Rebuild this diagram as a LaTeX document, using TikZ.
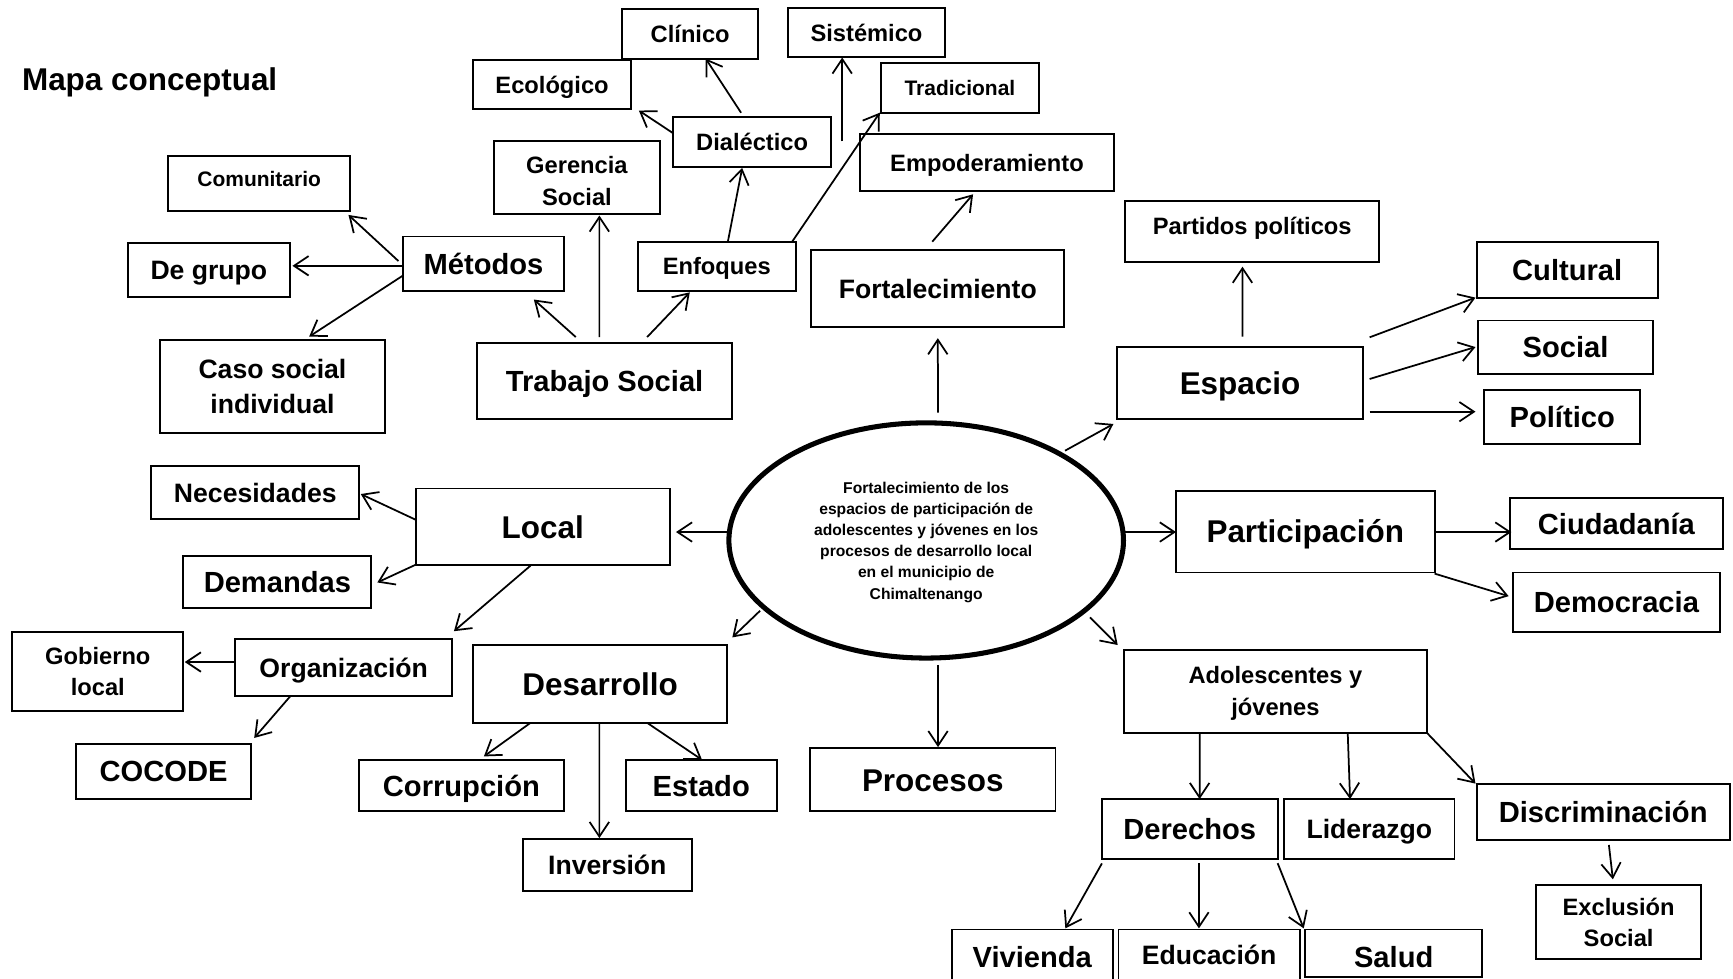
\documentclass[tikz,border=0pt]{standalone}
\usepackage{fontspec}
\setmainfont{Liberation Sans}
\usetikzlibrary{arrows.meta,shapes.geometric}
\newcommand\szL{\fontsize{16.2pt}{19pt}\selectfont}
\newcommand\szT{\fontsize{15pt}{18pt}\selectfont}
\newcommand\szM{\fontsize{13.7pt}{18pt}\selectfont}
\newcommand\szS{\fontsize{12.2pt}{16.2pt}\selectfont}
\newcommand\szX{\fontsize{10.8pt}{13pt}\selectfont}
\newcommand\szE{\fontsize{8.05pt}{10.9pt}\selectfont}
\newcommand\mybox[7][]{\node[box,minimum width={(#4-#2)*0.02cm},minimum height={(#5-#3)*0.02cm},#1] (#6) at ({(#2+#4)/2},{(#3+#5)/2}) {#7};}
\tikzset{
  box/.style={draw, line width=1pt, inner sep=0pt, outer sep=0pt, align=center, text depth=0pt},
  fontL/.style={font=\bfseries\szL, text height=11.7pt},
  fontT/.style={font=\bfseries\szT, text height=10.8pt},
  fontM/.style={font=\bfseries\szM, text height=9.9pt},
  fontS/.style={font=\bfseries\szS, text height=8.8pt},
  fontX/.style={font=\bfseries\szX, text height=7.8pt},
  arr/.style={line width=0.9pt, -{Straight Barb[length=7.5pt,width=10pt]}}
}
\begin{document}
\begin{tikzpicture}[x=0.02cm,y=-0.02cm]
\useasboundingbox (0,0) rectangle (1568,885);
\fill[white] (0,0) rectangle (1568,885);
\clip (0,0) rectangle (1568,885);

\node[anchor=base west, inner sep=0pt, font=\bfseries\fontsize{16.2pt}{19pt}\selectfont] (titulo) at (19.6,82) {Mapa conceptual};

\mybox[fontS]{563}{8}{686}{53}{clinico}{Clínico}
\mybox[fontS]{713}{7}{855}{52}{sistemico}{Sistémico}
\mybox[fontS]{428}{54}{571}{99}{ecologico}{Ecológico}
\mybox[fontX]{797}{57}{940}{102}{tradicional}{Tradicional}
\mybox[fontS]{609}{106}{752}{151}{dialectico}{Dialéctico}
\mybox[fontS]{778}{121}{1008}{173}{empoder}{Empoderamiento}
\mybox[fontX,text depth=5.1pt]{152}{141}{317}{191}{comunit}{Comunitario}
\mybox[fontS,text height=28.2pt]{447}{128}{597}{194}{gerencia}{Gerencia\\Social}
\mybox[fontT]{365}{214}{510}{263}{metodos}{Métodos}
\mybox[fontM]{116}{220}{262}{269}{degrupo}{De grupo}
\mybox[fontS]{577}{219}{720}{263}{enfoques}{Enfoques}
\mybox[fontM]{734}{226}{963}{296}{fortal}{Fortalecimiento}
\mybox[fontS,text depth=6.2pt]{1018}{182}{1248}{237}{partidos}{Partidos políticos}
\mybox[fontT]{1336}{219}{1500}{270}{cultural}{Cultural}
\mybox[fontT]{1337}{290}{1496}{338}{socialb}{Social}
\mybox[fontT]{1343}{353}{1484}{402}{politico}{Político}
\mybox[fontL]{1011}{314}{1233}{379}{espacio}{Espacio}
\mybox[fontM,text height=27.9pt]{145}{308}{348}{392}{caso}{Caso social\\individual}
\mybox[fontT]{432}{310}{662}{379}{trabajo}{Trabajo Social}
\mybox[fontM]{137}{422}{325}{470}{necesid}{Necesidades}
\mybox[fontL]{376}{442}{606}{511}{local}{Local}
\mybox[fontT]{166}{503}{336}{550}{demandas}{Demandas}
\mybox[fontL]{1064}{444}{1298}{518}{particip}{Participación}
\mybox[fontT]{1366}{451}{1559}{497}{ciudad}{Ciudadanía}
\mybox[fontT]{1369}{518}{1556}{572}{democ}{Democracia}
\mybox[fontS,text height=25.1pt]{11}{572}{166}{643}{gobierno}{Gobierno\\local}
\mybox[fontM]{213}{578}{409}{630}{organiz}{Organización}
\mybox[fontL]{428}{584}{658}{654}{desarr}{Desarrollo}
\mybox[fontT]{69}{673}{227}{723}{cocode}{COCODE}
\mybox[fontT]{325}{688}{510}{734}{corrup}{Corrupción}
\mybox[fontT]{566}{688}{703}{734}{estado}{Estado}
\mybox[fontL]{733}{677}{955}{734}{procesos}{Procesos}
\mybox[fontS,text height=24.8pt]{1017}{588}{1291}{663}{adolesc}{Adolescentes y\\jóvenes}
\mybox[fontT]{997}{723}{1156}{777}{derechos}{Derechos}
\mybox[fontM]{1162}{723}{1316}{777}{liderazgo}{Liderazgo}
\mybox[fontT]{1336}{709}{1565}{760}{discrim}{Discriminación}
\mybox[fontS,text height=25.3pt]{1390}{801}{1539}{868}{exclusion}{Exclusión\\Social}
\mybox[fontM]{473}{759}{626}{806}{inversion}{Inversión}
\mybox[fontT,text depth=5.6pt]{861}{841}{1007}{900}{vivienda}{Vivienda}
\mybox[fontM,text depth=7.4pt]{1012}{841}{1176}{900}{educacion}{Educación}
\mybox[fontT,text height=14.2pt]{1181}{841}{1341}{884}{salud}{Salud}

\node[draw, ellipse, line width=2.6pt, inner sep=0pt, outer sep=0pt,
  minimum width={357*0.02cm}, minimum height={212.8*0.02cm}, align=center,
  font=\bfseries\szE, text height=60.3pt, text depth=0pt] (centro) at (838,489)
  {Fortalecimiento de los\\espacios de participación de\\adolescentes y jóvenes en los\\procesos de desarrollo local\\en el municipio de\\Chimaltenango};

\coordinate (sisfrom) at (762,128);

% top cluster
\draw[arr] ([shift={(-10,-4)}]dialectico.north) -- ([shift={(14,0)}]clinico.south);
\draw[arr] ([shift={(0,-8)}]dialectico.west) -- ([shift={(7,1)}]ecologico.south east);
\draw[arr] (sisfrom) -- ([shift={(-22,0)}]sistemico.south);
\draw[arr] ([shift={(-3.5,0)}]enfoques.north east) -- ([shift={(-1,0)}]tradicional.south west);
\draw[arr] ([shift={(10,0)}]enfoques.north) -- ([shift={(-9,1)}]dialectico.south);
\draw[arr] ([shift={(-26,-5)}]trabajo.north) -- ([shift={(45.5,8)}]metodos.south);
\draw[arr] ([shift={(-4.7,-5)}]trabajo.north) -- ([shift={(20.3,1)}]gerencia.south);
\draw[arr] ([shift={(38.5,-5)}]trabajo.north) -- ([shift={(-24.4,1.5)}]enfoques.south);
\draw[arr] ([shift={(-4.5,-2.3)}]metodos.west) -- ([shift={(-1.7,3.5)}]comunit.south east);
\draw[arr] ([shift={(-1,2)}]metodos.west) -- ([shift={(2.6,-4)}]degrupo.east);
\draw[arr] ([shift={(-1,11.2)}]metodos.west) -- ([shift={(33.2,-3.4)}]caso.north);
\draw[arr] ([shift={(-5,-7.3)}]fortal.north) -- ([shift={(-12.6,2.8)}]empoder.south);

% from centre
\draw[arr] ([shift={(10.7,-9.2)}]centro.north) -- ([shift={(0,10)}]fortal.south);
\draw[arr] ([shift={(125.6,-81.2)}]centro.center) -- ([shift={(-3.6,4.6)}]espacio.south west);
\draw[arr] ([shift={(0,-7.6)}]centro.west) -- ([shift={(5.6,4.9)}]local.east);
\draw[arr] ([shift={(0,-7.6)}]centro.east) -- ([shift={(0,0.4)}]particip.west);
\draw[arr] ([shift={(-150.3,63.6)}]centro.center) -- ([shift={(4.6,-7.3)}]desarr.north east);
\draw[arr] ([shift={(10.7,6.1)}]centro.south) -- ([shift={(4.7,-1)}]procesos.north);
\draw[arr] ([shift={(148.2,69.6)}]centro.center) -- ([shift={(-5.7,-4.4)}]adolesc.north west);

% espacio
\draw[arr] ([shift={(2.2,-9.4)}]espacio.north) -- ([shift={(-8.8,4.3)}]partidos.south);
\draw[arr] ([shift={(6.2,-8.8)}]espacio.north east) -- ([shift={(-1,-0.7)}]cultural.south west);
\draw[arr] ([shift={(6.2,-3.6)}]espacio.east) -- ([shift={(-2,0)}]socialb.west);
\draw[arr] ([shift={(6.2,26)}]espacio.east) -- ([shift={(-8,-5)}]politico.west);

% participacion
\draw[arr] ([shift={(1.6,0.4)}]particip.east) -- ([shift={(1.5,7.4)}]ciudad.west);
\draw[arr] ([shift={(0,1)}]particip.south east) -- ([shift={(-4,-5.6)}]democ.west);

% local
\draw[arr] ([shift={(0,-6.3)}]local.west) -- ([shift={(1.4,1)}]necesid.east);
\draw[arr] (local.south west) -- ([shift={(5.4,0.5)}]demandas.east);
\draw[arr] ([shift={(-11,0.8)}]local.south) -- ([shift={(1.7,-6.9)}]organiz.north east);
\draw[arr] ([shift={(0,-5)}]organiz.west) -- ([shift={(1.2,-8.5)}]gobierno.east);
\draw[arr] ([shift={(-48.4,0)}]organiz.south) -- ([shift={(3,-5.3)}]cocode.north east);

% desarrollo
\draw[arr] ([shift={(-63,0)}]desarr.south) -- ([shift={(20.3,-3.6)}]corrup.north);
\draw[arr] ([shift={(-0.7,0)}]desarr.south) -- ([shift={(-7.2,-0.7)}]inversion.north);
\draw[arr] ([shift={(42.5,0)}]desarr.south) -- ([shift={(0.7,-0.5)}]estado.north);

% adolescentes
\draw[arr] ([shift={(-68.6,0)}]adolesc.south) -- ([shift={(8.9,0)}]derechos.north);
\draw[arr] ([shift={(65.4,0)}]adolesc.south) -- ([shift={(-17.5,0)}]liderazgo.north);
\draw[arr] (adolesc.south east) -- ([shift={(-1,0)}]discrim.north west);
\draw[arr] ([shift={(5.2,4.5)}]discrim.south) -- ([shift={(-5.2,-5.4)}]exclusion.north);
\draw[arr] ([shift={(0,4.2)}]derechos.south west) -- ([shift={(29.9,-1)}]vivienda.north);
\draw[arr] ([shift={(8.3,4)}]derechos.south) -- ([shift={(-9.2,-1)}]educacion.north);
\draw[arr] ([shift={(0,4)}]derechos.south east) -- ([shift={(-1.4,-1)}]salud.north west);
\end{tikzpicture}
\end{document}
